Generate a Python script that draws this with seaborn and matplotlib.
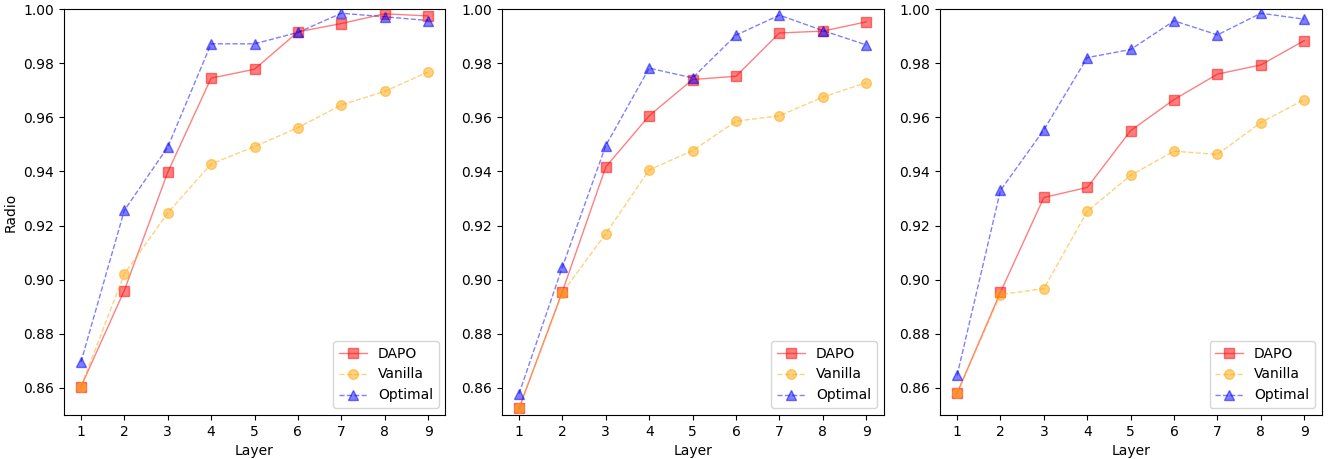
import numpy as np
import pandas as pd
import matplotlib
matplotlib.use("Agg")
import matplotlib.pyplot as plt
import seaborn as sns

layers = [1, 2, 3, 4, 5, 6, 7, 8, 9]
methods = ["DAPO", "Vanilla", "Optimal"]

# Panel 1
dapo_1 = [0.8604, 0.8960, 0.9397, 0.9745, 0.9778, 0.9916, 0.9947, 0.9983, 0.9975]
vanilla_1 = [0.8604, 0.9021, 0.9247, 0.9428, 0.9492, 0.9562, 0.9646, 0.9696, 0.9768]
optimal_1 = [0.8695, 0.9256, 0.9490, 0.9872, 0.9872, 0.9914, 0.9985, 0.9972, 0.9958]

# Panel 2
dapo_2 = [0.8524, 0.8956, 0.9417, 0.9606, 0.9740, 0.9752, 0.9912, 0.9919, 0.9953]
vanilla_2 = [0.8524, 0.8952, 0.9170, 0.9406, 0.9477, 0.9586, 0.9606, 0.9675, 0.9728]
optimal_2 = [0.8578, 0.9047, 0.9496, 0.9782, 0.9746, 0.9904, 0.9978, 0.9921, 0.9868]

# Panel 3
dapo_3 = [0.8580, 0.8954, 0.9304, 0.9341, 0.9551, 0.9666, 0.9760, 0.9794, 0.9884]
vanilla_3 = [0.8580, 0.8945, 0.8967, 0.9253, 0.9386, 0.9475, 0.9463, 0.9581, 0.9666]
optimal_3 = [0.8646, 0.9330, 0.9554, 0.9821, 0.9851, 0.9957, 0.9905, 0.9985, 0.9963]

y_ticks = [0.86, 0.88, 0.90, 0.92, 0.94, 0.96, 0.98, 1.00]

panels = [
    (dapo_1, vanilla_1, optimal_1),
    (dapo_2, vanilla_2, optimal_2),
    (dapo_3, vanilla_3, optimal_3),
]

styles = {
    "DAPO": dict(color="red", marker="s", linestyle="-"),
    "Vanilla": dict(color="orange", marker="o", linestyle="--"),
    "Optimal": dict(color="blue", marker="^", linestyle="--"),
}

fig, axes = plt.subplots(1, 3, figsize=(13.35, 4.59), dpi=100)
fig.subplots_adjust(left=0.0476, right=0.990, top=0.980, bottom=0.096, wspace=0.147)

for ax, series in zip(axes, panels):
    frames = []
    for name, vals in zip(methods, series):
        frames.append(pd.DataFrame({"Layer": layers, "value": vals, "method": name}))
    df = pd.concat(frames, ignore_index=True)
    for name in methods:
        st = styles[name]
        sub = df[df["method"] == name]
        sns.lineplot(
            data=sub, x="Layer", y="value", ax=ax, label=name,
            color=st["color"], marker=st["marker"], linestyle=st["linestyle"],
            markersize=7, markeredgecolor=st["color"], markeredgewidth=1.0,
            linewidth=1.0, alpha=0.5,
        )
    ax.set_ylim(0.85, 1.0)
    ax.set_xticks(layers)
    ax.set_yticks(y_ticks)
    ax.set_yticklabels([f"{t:.2f}" for t in y_ticks])
    ax.set_xlabel("Layer")
    ax.set_ylabel("")
    ax.legend(loc="lower right")

axes[0].set_ylabel("Radio")

fig.savefig("out.png", dpi=100)
